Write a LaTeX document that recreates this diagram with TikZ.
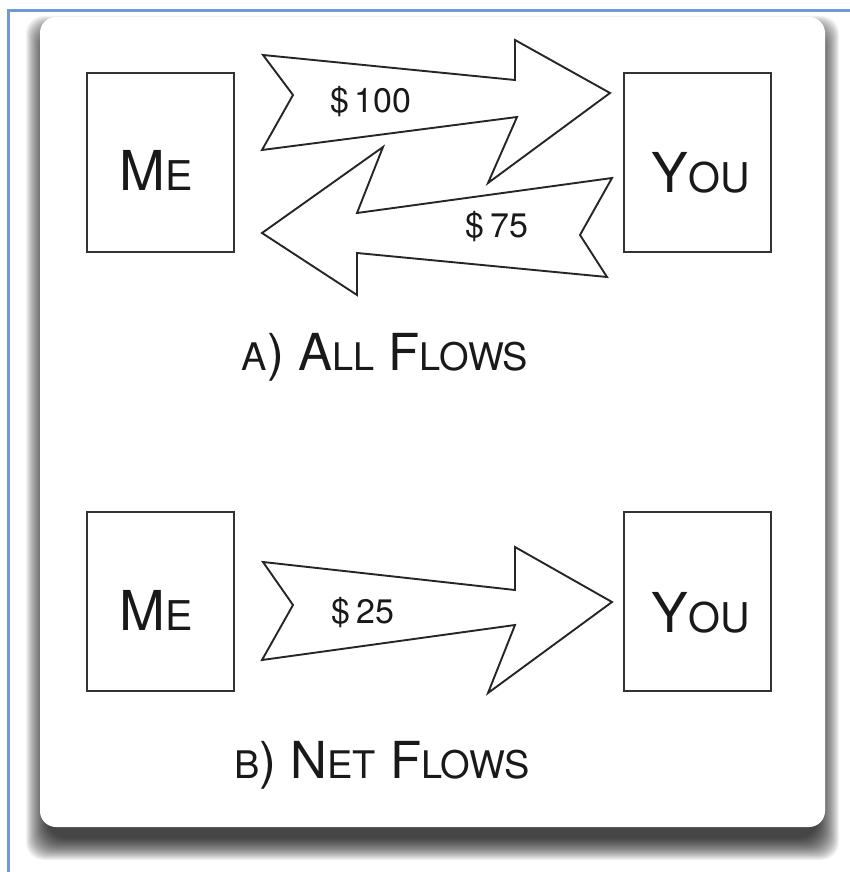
\documentclass[tikz,border=0pt]{standalone}
\usepackage{fontspec}
\setmainfont{TeX Gyre Heros}
\definecolor{frameblue}{RGB}{110,155,215}
\newcommand\bigsz{\fontsize{55}{60}\selectfont}
\newcommand\smallsz{\fontsize{41}{45}\selectfont}
\newcommand\tbig{\fontsize{51}{55}\selectfont}
\newcommand\tsmall{\fontsize{38}{42}\selectfont}
\begin{document}
\begin{tikzpicture}[x=1pt,y=-1pt,
  boxst/.style={draw=black!80, line width=2pt, fill=white, minimum width=147pt, minimum height=179pt, inner sep=0pt},
  flow/.style={draw=black!85, line width=1.9pt, fill=white, line join=miter},
  lbl/.style={font=\fontsize{34}{38}\selectfont, inner sep=0pt, text=black!90},
  word/.style={anchor=base, inner sep=0pt, text=black!90},
  ttl/.style={anchor=base, inner sep=0pt, font=\tbig, text=black!90}]
\useasboundingbox (0,0) rectangle (850,872);
\fill[white] (0,0) rectangle (850,872);
% window frame
\draw[line width=2.2pt, frameblue] (8.5,872) -- (8.5,10.5) -- (850,10.5);
% shadow of the card, offset downwards
\foreach \i in {0,...,22} {
  \fill[black, opacity=0.05, rounded corners=18pt]
    ({26+\i},{16+\i}) rectangle ({839-\i},{860-\i});
}
% card
\fill[white, rounded corners=16pt] (40,17) rectangle (825,827);

% boxes
\node[boxst] (me1) at (160.5,162.5) {};
\node[boxst] (you1) at (697.5,162.5) {};
\node[boxst] (me2) at (160.5,601) {};
\node[boxst] (you2) at (697.5,601) {};
\node[word] (me1t) at (156,190) {{\bigsz M}{\smallsz E}};
\node[word] (you1t) at (701,192) {{\bigsz Y}{\smallsz OU}};
\node[word] (me2t) at (156,630) {{\bigsz M}{\smallsz E}};
\node[word] (you2t) at (701,632) {{\bigsz Y}{\smallsz OU}};

% flows (A)
\draw[flow] (612,178) -- (580,235) -- (607,277) -- (357,253) -- (357,295)
  -- (262,233) -- (383,147) -- (357,213) -- cycle;
\draw[flow] (263,55) -- (293,95) -- (262,150) -- (517,117) -- (488,183)
  -- (610,93) -- (515,40) -- (515,80) -- cycle;
\node[lbl] (l100) at (371,102) {\$\,100};
\node[lbl] (l75) at (497,227) {\$\,75};
\node[ttl] (ta) at (385,370) {{\tsmall A}) {A}{\tsmall LL} {F}{\tsmall LOWS}};

% flows (B)
\draw[flow] (263,562) -- (293,605) -- (262,660) -- (515,625) -- (488,693)
  -- (612,602) -- (515,547) -- (515,590) -- cycle;
\node[lbl] (l25) at (363,613) {\$\,25};
\node[ttl] (tb) at (382,778) {{\tsmall B}) {N}{\tsmall ET} {F}{\tsmall LOWS}};
\end{tikzpicture}
\end{document}
